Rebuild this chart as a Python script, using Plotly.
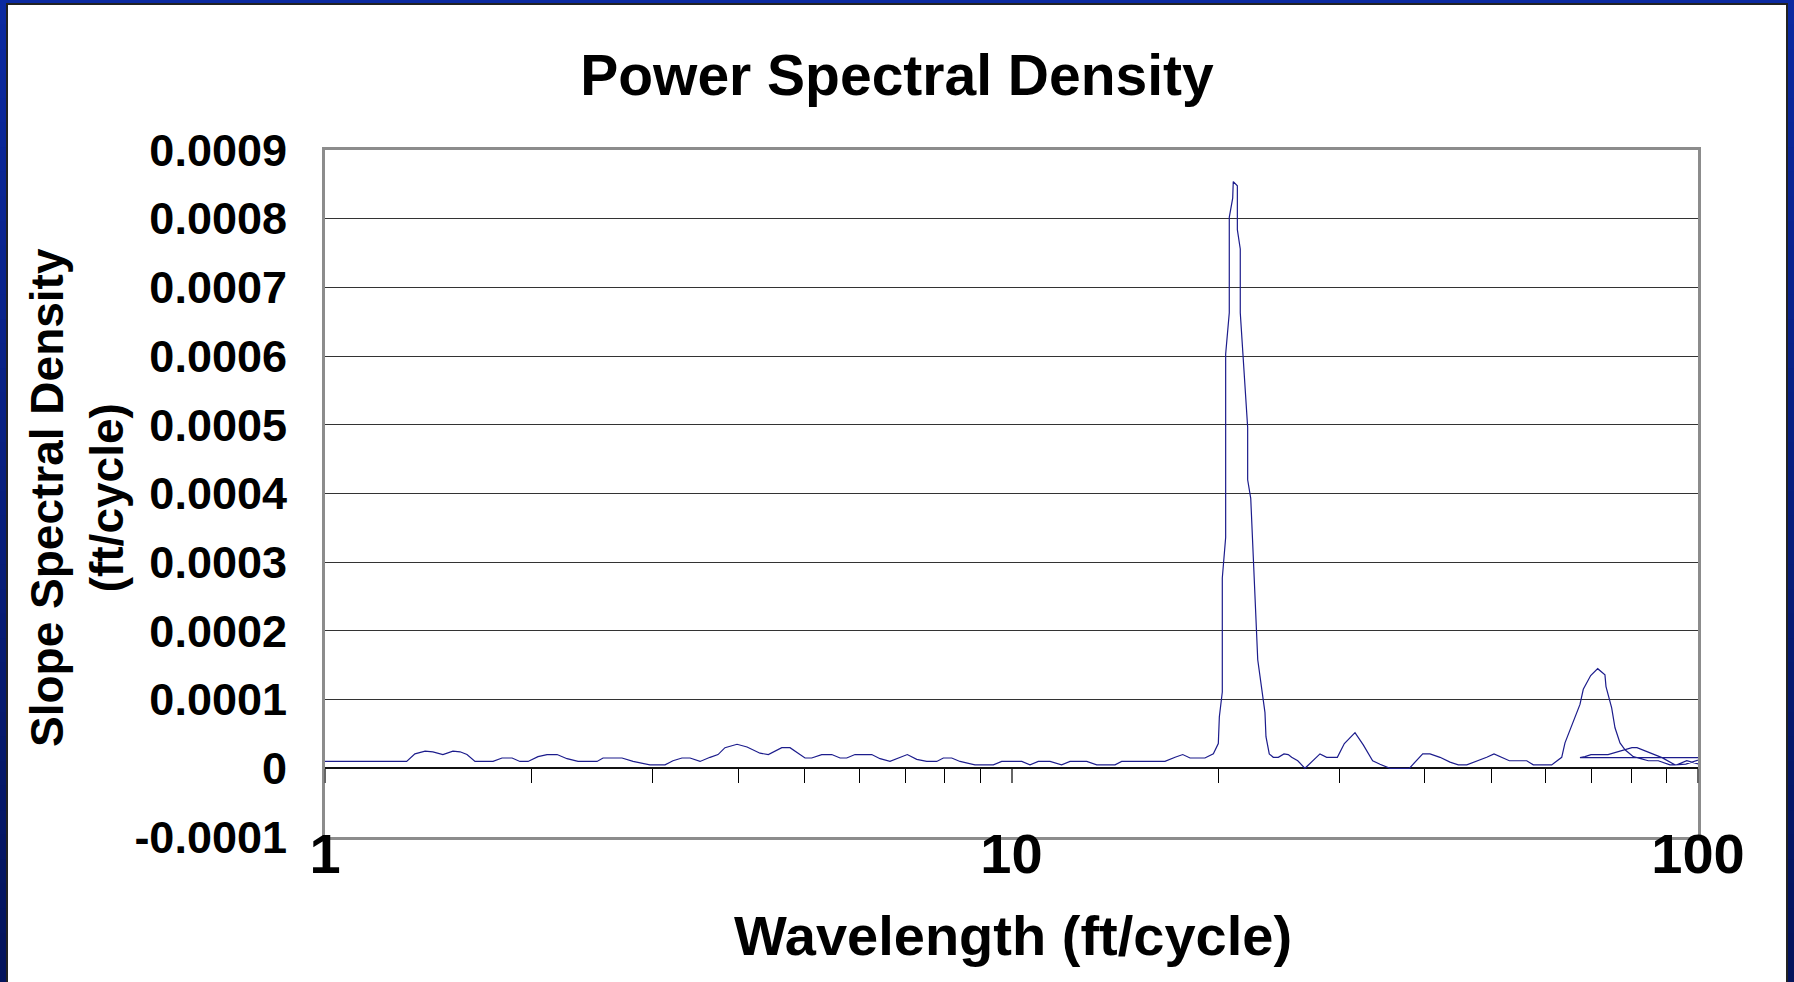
import plotly.graph_objects as go

# ---------------- data ----------------
wavelength = [
    1.00, 1.315, 1.352, 1.399, 1.436, 1.485, 1.536, 1.573, 1.610, 1.654,
    1.757, 1.811, 1.873, 1.923, 1.976, 2.043, 2.106, 2.178, 2.252, 2.337,
    2.490, 2.541, 2.708, 2.810, 2.974, 3.128, 3.213, 3.311, 3.402, 3.518,
    3.638, 3.737, 3.825, 3.983, 4.119, 4.302,
    4.424, 4.628, 4.757, 4.865, 5.003, 5.116, 5.291, 5.472, 5.627, 5.754,
    5.916, 6.258, 6.435, 6.653, 6.841, 7.051, 7.277, 7.525, 7.782, 7.956,
    8.183, 8.414, 8.846, 9.409, 9.677, 10.35, 10.64, 10.94, 11.38, 11.83,
    12.17, 12.87, 13.31, 14.15, 14.47, 16.73, 17.31, 17.76, 18.20, 19.13,
    19.68,
    20.01, 20.08, 20.28, 20.28, 20.51, 20.51, 20.76, 20.76, 21.00, 21.04,
    21.33, 21.33, 21.54, 21.54, 22.08, 22.08, 22.31, 22.84, 23.40, 23.48,
    23.74, 24.06, 24.47, 24.94, 25.30, 25.59, 26.12, 26.76, 28.14, 28.78,
    29.83, 30.54, 31.65, 32.54, 33.58, 34.42, 35.59, 37.97, 39.72, 40.70,
    42.09, 43.53, 44.76, 46.04, 47.61, 49.23, 50.45, 51.78, 53.11, 56.30,
    57.56, 61.22, 63.31, 64.01, 65.82, 67.31, 68.06, 69.77, 71.43, 73.19,
    73.45, 74.86, 75.70, 76.98, 78.29, 80.50, 84.64, 87.53, 91.03, 93.11,
    96.29, 101.4,
    150.0,
    67.31, 68.45, 69.84, 73.95, 80.13, 81.49, 85.14, 88.63, 92.58, 96.00,
    102.4,
]
density = [
    0.000010, 0.000010, 0.000021, 0.000025, 0.000024, 0.000020, 0.000025, 0.000024, 0.000020, 0.000010,
    0.000010, 0.000015, 0.000015, 0.000010, 0.000010, 0.000017, 0.000020, 0.000020, 0.000014, 0.000010,
    0.000010, 0.000015, 0.000015, 0.000010, 0.000005, 0.000005, 0.000011, 0.000015, 0.000015, 0.000010,
    0.000016, 0.000020, 0.000030, 0.000035, 0.000031, 0.000022,
    0.000020, 0.000030, 0.000030, 0.000023, 0.000015, 0.000015, 0.000020, 0.000020, 0.000015, 0.000015,
    0.000020, 0.000020, 0.000014, 0.000010, 0.000015, 0.000020, 0.000013, 0.000010, 0.000010, 0.000015,
    0.000015, 0.000010, 0.000005, 0.000005, 0.000010, 0.000010, 0.000005, 0.000010, 0.000010, 0.000005,
    0.000010, 0.000010, 0.000005, 0.000005, 0.000010, 0.000010, 0.000016, 0.000020, 0.000015, 0.000015,
    0.000021,
    0.000036, 0.000075, 0.000111, 0.000277, 0.000336, 0.000603, 0.000663, 0.000802, 0.000830, 0.000854,
    0.000848, 0.000784, 0.000756, 0.000663, 0.000496, 0.000420, 0.000393, 0.000158, 0.000081, 0.000046,
    0.000021, 0.000016, 0.000016, 0.000021, 0.000020, 0.000016, 0.000011, 0.000000, 0.000021, 0.000016,
    0.000016, 0.000036, 0.000052, 0.000034, 0.000011, 0.000006, 0.000000, 0.000000, 0.000021, 0.000021,
    0.000016, 0.000009, 0.000005, 0.000005, 0.000010, 0.000016, 0.000021, 0.000016, 0.000011, 0.000011,
    0.000005, 0.000005, 0.000016, 0.000037, 0.000067, 0.000093, 0.000115, 0.000135, 0.000145, 0.000136,
    0.000119, 0.000088, 0.000059, 0.000037, 0.000027, 0.000017, 0.000011, 0.000011, 0.000005, 0.000005,
    0.000011, 0.000005,
    0.0000155,
    0.0000155, 0.000017, 0.000020, 0.000020, 0.000030, 0.000030, 0.000022, 0.0000155, 0.000005, 0.000006,
    0.0000155,
]

y_tick_vals = [-0.0001, 0.0, 0.0001, 0.0002, 0.0003, 0.0004, 0.0005, 0.0006, 0.0007, 0.0008, 0.0009]
y_tick_text = ["-0.0001", "0", "0.0001", "0.0002", "0.0003", "0.0004", "0.0005",
               "0.0006", "0.0007", "0.0008", "0.0009"]
x_major_vals = [1, 10, 100]
x_major_text = ["1", "10", "100"]
x_minor_vals = [2, 3, 4, 5, 6, 7, 8, 9, 20, 30, 40, 50, 60, 70, 80, 90]

title_text = "Power Spectral Density"
x_title = "Wavelength (ft/cycle)"
y_title = "Slope Spectral Density<br>(ft/cycle)"

# ---------------- layout geometry ----------------
W, H = 1794, 982
PL, PR, PT, PB = 325, 1698, 150, 837
pw, ph = PR - PL, PB - PT
FONT = "Liberation Sans, Arial, sans-serif"


def px_x(v):
    return (v - PL) / pw


def px_y(v):
    return (PB - v) / ph


fig = go.Figure()
fig.add_trace(go.Scatter(
    x=wavelength, y=density, mode="lines",
    line=dict(color="#1c1c8c", width=1.2),
    showlegend=False, hoverinfo="x+y",
))
# helper trace to carry the tick axis at y = 0
fig.add_trace(go.Scatter(
    x=[1, 100], y=[0, 0], xaxis="x2", mode="lines",
    line=dict(color="rgba(0,0,0,0)", width=0),
    showlegend=False, hoverinfo="skip",
))

y0_frac = (0 - y_tick_vals[0]) / (y_tick_vals[-1] - y_tick_vals[0])

# slide frame (vertical gradient strips)
shapes = []
n = 40
for i in range(n):
    t = i / (n - 1)
    r = int(12 + (4 - 12) * t)
    g = int(42 + (20 - 42) * t)
    b = int(160 + (92 - 160) * t)
    col = f"rgb({r},{g},{b})"
    y_top = i * H / n
    y_bot = (i + 1) * H / n + 1
    shapes.append(dict(type="rect", xref="paper", yref="paper", layer="below",
                       x0=px_x(0), x1=px_x(W), y0=px_y(y_bot), y1=px_y(y_top),
                       fillcolor=col, line=dict(width=0)))
shapes.append(dict(type="rect", xref="paper", yref="paper", layer="below",
                   x0=px_x(7), x1=px_x(1787), y0=px_y(H + 20), y1=px_y(4),
                   fillcolor="white", line=dict(color="#222222", width=2)))

fig.update_layout(
    width=W, height=H, autosize=False,
    margin=dict(l=PL, r=W - PR, t=PT, b=H - PB),
    paper_bgcolor="white", plot_bgcolor="white",
    shapes=shapes,
    title=dict(text=title_text, x=0.5, xref="container", xanchor="center",
               y=1 - 75 / H, yref="container", yanchor="middle",
               font=dict(family=FONT, size=57, color="black", weight="bold")),
    xaxis=dict(type="log", range=[0, 2], tickvals=x_major_vals, ticktext=x_major_text,
               ticks="", showgrid=False, zeroline=False,
               showline=True, linecolor="#8c8c8c", linewidth=3, mirror=True,
               tickfont=dict(family=FONT, size=56, color="black", weight="bold"),
               ticklabelstandoff=-34),
    xaxis2=dict(type="log", range=[0, 2], overlaying="x", anchor="free", position=y0_frac,
                side="bottom", tickvals=x_major_vals, showticklabels=False,
                ticks="outside", ticklen=14, tickwidth=2, tickcolor="#666666",
                minor=dict(tickvals=x_minor_vals, ticks="outside", ticklen=14,
                           tickwidth=1, tickcolor="black"),
                showgrid=False, zeroline=False, showline=False),
    yaxis=dict(range=[y_tick_vals[0], y_tick_vals[-1]], tickvals=y_tick_vals, ticktext=y_tick_text,
               ticks="", showgrid=True, gridcolor="#333333", gridwidth=1,
               zeroline=True, zerolinecolor="#111111", zerolinewidth=1.5,
               showline=True, linecolor="#8c8c8c", linewidth=3, mirror=True,
               tickfont=dict(family=FONT, size=45, color="black", weight="bold"),
               ticklabelstandoff=26),
    annotations=[
        dict(text=x_title, xref="paper", yref="paper", x=px_x(1013), y=px_y(935),
             xanchor="center", yanchor="middle", showarrow=False,
             font=dict(family=FONT, size=56, color="black", weight="bold")),
        dict(text=y_title, xref="paper", yref="paper", x=px_x(77), y=px_y(498),
             xanchor="center", yanchor="middle", showarrow=False, textangle=-90,
             font=dict(family=FONT, size=46, color="black", weight="bold")),
    ],
)

fig.write_html("out.html",
               config={"displayModeBar": False},
               post_script="document.body.style.margin='0';document.body.style.overflow='hidden';")
